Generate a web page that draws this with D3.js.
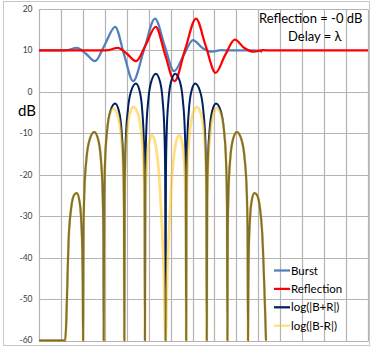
<!DOCTYPE html>
<html><head><meta charset="utf-8">
<script src="https://cdn.jsdelivr.net/npm/d3@7"></script>
<style>
html,body{margin:0;padding:0;background:#fff;}
svg{display:block;}
text{font-family:Lato,"Noto Sans",sans-serif;}
</style></head><body>
<svg id="chart" width="374" height="350"></svg>
<script>
// dB axis ticks
const yTicks = [20, 10, 0, -10, -20, -30, -40, -50, -60];
const seriesNames = ["Burst", "Reflection", "log(|B+R|)", "log(|B-R|)"];

// [position, dB] samples for each series
const burst = [[0,10],[1.0,10],[1.30,10.1],[1.72,10.6],[2.14,9.2],[2.55,7.4],[3.01,11.5],[3.47,15.7],[3.88,9.0],[4.29,2.6],[4.79,10.2],[5.29,17.7],[5.72,11.3],[6.16,5.0],[6.59,8.8],[7.02,12.5],[7.45,10.6],[7.89,9.7],[8.30,10.05],[8.70,10.0],[9.8,10.0],[10.05,9.9],[10.17,9.6]];

const reflection = [[0,10],[2.9,10],[3.17,10.1],[3.59,10.6],[4.01,9.2],[4.42,7.4],[4.88,11.5],[5.32,15.7],[5.75,9.0],[6.18,2.6],[6.66,10.2],[7.16,17.7],[7.59,11.3],[8.05,4.6],[8.48,8.8],[8.93,12.6],[9.36,10.6],[9.80,9.7],[10.20,10.05],[10.60,10.0],[15,10]];

const sumLog = [[0,-60],[1.19,-60],[1.37,-33.5],[1.48,-27.5],[1.60,-24.9],[1.72,-24.4],[1.836,-26.1],[1.923,-30.9],[1.975,-38.4],[1.998,-48.4],[2.01,-60],
[2.030,-33.7],[2.071,-23.7],[2.163,-16.2],[2.316,-11.4],[2.52,-9.7],[2.692,-11.4],[2.821,-16.2],[2.898,-23.7],[2.933,-33.7],[2.95,-60],
[2.971,-26.8],[3.012,-16.8],[3.106,-9.3],[3.262,-4.5],[3.47,-2.8],[3.638,-4.5],[3.764,-9.3],[3.840,-16.8],[3.873,-26.8],[3.89,-60],
[3.911,-22.0],[3.954,-12.0],[4.049,-4.5],[4.208,0.3],[4.42,2.0],[4.584,0.3],[4.707,-4.5],[4.781,-12.0],[4.814,-22.0],[4.83,-60],
[4.850,-19.6],[4.890,-9.6],[4.980,-2.1],[5.130,2.7],[5.33,4.4],[5.506,2.7],[5.638,-2.1],[5.717,-9.6],[5.752,-19.6],[5.77,-60],
[5.788,-19.6],[5.823,-9.6],[5.902,-2.1],[6.034,2.7],[6.21,4.4],[6.41,2.7],[6.56,-2.1],[6.65,-9.6],[6.69,-19.6],[6.71,-60],
[6.726,-22.0],[6.759,-12.0],[6.833,-4.5],[6.956,0.3],[7.12,2.0],[7.332,0.3],[7.491,-4.5],[7.586,-12.0],[7.629,-22.0],[7.65,-60],
[7.667,-26.8],[7.700,-16.8],[7.776,-9.3],[7.902,-4.5],[8.07,-2.8],[8.278,-4.5],[8.434,-9.3],[8.528,-16.8],[8.569,-26.8],[8.59,-60],
[8.607,-33.7],[8.642,-23.7],[8.719,-16.2],[8.848,-11.4],[9.02,-9.7],[9.224,-11.4],[9.377,-16.2],[9.469,-23.7],[9.510,-33.7],[9.53,-60],
[9.542,-48.4],[9.565,-38.4],[9.617,-30.9],[9.704,-26.1],[9.82,-24.4],[9.94,-24.9],[10.06,-27.5],[10.17,-33.5],[10.35,-60]];

const diffLog = [[0,-60],[1.19,-60],[1.37,-33.5],[1.48,-27.5],[1.60,-24.9],[1.72,-24.4],[1.836,-26.1],[1.923,-30.9],[1.975,-38.4],[1.998,-48.4],[2.01,-60],
[2.030,-33.7],[2.071,-23.7],[2.163,-16.2],[2.316,-11.4],[2.52,-9.7],[2.692,-11.4],[2.821,-16.2],[2.898,-23.7],[2.933,-33.7],[2.95,-60],
[2.968,-28.0],[3.003,-18.0],[3.082,-10.5],[3.214,-5.7],[3.39,-4.0],[3.59,-5.7],[3.74,-10.5],[3.83,-18.0],[3.87,-28.0],[3.89,-60],
[3.906,-27.6],[3.939,-17.6],[4.013,-10.1],[4.136,-5.3],[4.30,-3.6],[4.512,-5.3],[4.671,-10.1],[4.766,-17.6],[4.809,-27.6],[4.83,-60],
[4.843,-34.5],[4.867,-24.5],[4.923,-17.0],[5.016,-12.2],[5.14,-10.5],[5.26,-11.5],[5.36,-14.2],[5.44,-18.0],[5.52,-24.0],[5.60,-32.0],[5.68,-42.0],[5.77,-60],
[5.86,-42.0],[5.94,-32.0],[6.02,-24.0],[6.10,-18.0],[6.18,-14.2],[6.28,-11.5],[6.40,-10.5],[6.524,-12.2],[6.617,-17.0],[6.673,-24.5],[6.697,-34.5],[6.71,-60],
[6.731,-27.6],[6.774,-17.6],[6.869,-10.1],[7.01,-5.3],[7.20,-3.6],[7.38,-5.3],[7.527,-10.1],[7.601,-17.6],[7.634,-27.6],[7.65,-60],
[7.67,-28.0],[7.71,-18.0],[7.80,-10.5],[7.94,-5.7],[8.11,-4.0],[8.31,-5.7],[8.458,-10.5],[8.537,-18.0],[8.572,-28.0],[8.59,-60],
[8.607,-33.7],[8.642,-23.7],[8.719,-16.2],[8.848,-11.4],[9.02,-9.7],[9.224,-11.4],[9.377,-16.2],[9.469,-23.7],[9.510,-33.7],[9.53,-60],
[9.542,-48.4],[9.565,-38.4],[9.617,-30.9],[9.704,-26.1],[9.82,-24.4],[9.94,-24.9],[10.06,-27.5],[10.17,-33.5],[10.35,-60]];

const svg = d3.select("#chart");
const plot = {left: 39, right: 368, top: 9, bottom: 340.5};

const x = d3.scaleLinear().domain([0, 15]).range([plot.left, plot.right]);
const y = d3.scaleLinear().domain([-60, 20]).range([plot.bottom, plot.top]);

// chart area frame
svg.append("rect").attr("x", 3.5).attr("y", 1.5).attr("width", 366).attr("height", 344)
  .attr("fill", "#fff").attr("stroke", "#c8c8c8").attr("stroke-width", 1);

const gridColor = "#b4b4b4";
// horizontal gridlines
svg.append("g").selectAll("line").data(yTicks).join("line")
  .attr("x1", plot.left).attr("x2", plot.right)
  .attr("y1", d => Math.round(y(d)) + 0.5).attr("y2", d => Math.round(y(d)) + 0.5)
  .attr("stroke", gridColor).attr("stroke-width", 1.2);
// vertical gridlines
svg.append("g").selectAll("line").data(x.ticks(15)).join("line")
  .attr("x1", d => Math.round(x(d)) + 0.5).attr("x2", d => Math.round(x(d)) + 0.5)
  .attr("y1", Math.round(y(20)) + 0.5).attr("y2", Math.round(y(-60)) + 0.5)
  .attr("stroke", gridColor).attr("stroke-width", 1.2);

// y tick labels
svg.append("g").selectAll("text").data(yTicks).join("text")
  .attr("x", 32.5).attr("y", d => y(d)).attr("dy", "0.35em")
  .attr("text-anchor", "end").attr("font-size", 8.5).attr("fill", "#404040")
  .text(d => d);

svg.append("text").attr("x", 18).attr("y", 111).attr("dy", "0.35em")
  .attr("font-size", 15).attr("fill", "#000").text("dB");

const line = d3.line().x(d => x(d[0])).y(d => y(d[1])).curve(d3.curveMonotoneX);

const styles = [
  {data: burst, color: "#4F81BD", width: 2.25, opacity: 1},
  {data: reflection, color: "#FF0000", width: 2.25, opacity: 1},
  {data: sumLog, color: "#002060", width: 2, opacity: 1},
  {data: diffLog, color: "#FFC000", width: 2.75, opacity: 0.5}
];

svg.append("g").selectAll("path").data(styles).join("path")
  .attr("d", d => line(d.data))
  .attr("fill", "none")
  .attr("stroke", d => d.color)
  .attr("stroke-width", d => d.width)
  .attr("stroke-opacity", d => d.opacity)
  .attr("stroke-linejoin", "round");

// annotation
svg.append("text").attr("x", 259).attr("y", 18.5).attr("dy", "0.35em")
  .attr("font-size", 13).attr("fill", "#000").text("Reflection = -0 dB");
svg.append("text").attr("x", 288).attr("y", 36).attr("dy", "0.35em")
  .attr("font-size", 13).attr("fill", "#000").text("Delay = λ");

// legend
const legend = svg.append("g").selectAll("g").data(seriesNames).join("g")
  .attr("transform", (d, i) => `translate(274,${270.5 + i * 18.4})`);
legend.append("line").attr("x1", 0).attr("x2", 16).attr("y1", 0).attr("y2", 0)
  .attr("stroke", (d, i) => styles[i].color)
  .attr("stroke-opacity", (d, i) => styles[i].opacity)
  .attr("stroke-width", 2.25);
legend.append("text").attr("x", 17).attr("y", 0).attr("dy", "0.35em")
  .attr("font-size", 11.5).attr("fill", "#000").text(d => d);
</script>
</body></html>
